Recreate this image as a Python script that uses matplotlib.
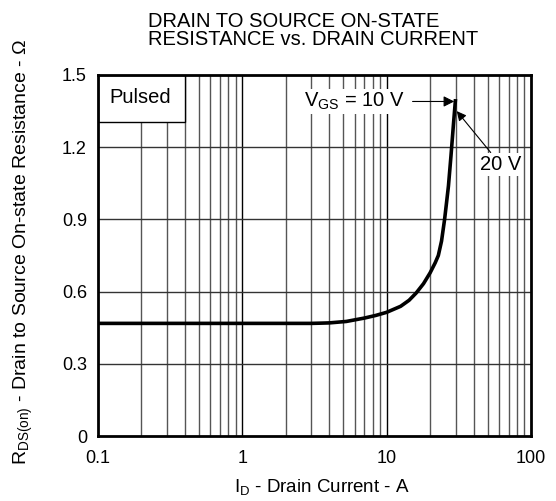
import numpy as np
import matplotlib
matplotlib.use("Agg")
import matplotlib.pyplot as plt
from matplotlib.patches import Rectangle

plt.rcParams["font.family"] = ["Liberation Sans", "DejaVu Sans"]
plt.rcParams["mathtext.fontset"] = "custom"
plt.rcParams["mathtext.rm"] = "Liberation Sans"

# RDS(on) vs ID curve
drain_current = [0.1, 0.5, 1.0, 2.0, 3.0, 3.5, 4.0, 5.25, 7.0, 8.4, 10.0,
                 12.5, 14.3, 16.0, 18.0, 20.0, 21.7, 22.8, 24.0, 25.2, 26.0,
                 26.8, 27.9, 29.1, 30.0]
rds_on = [0.468, 0.468, 0.468, 0.468, 0.468, 0.469, 0.470, 0.476, 0.490,
          0.501, 0.514, 0.539, 0.564, 0.594, 0.633, 0.678, 0.720, 0.750,
          0.810, 0.900, 0.970, 1.039, 1.164, 1.303, 1.400]

x_ticks = [0.1, 1, 10, 100]
x_tick_labels = ["0.1", "1", "10", "100"]
y_ticks = [0, 0.3, 0.6, 0.9, 1.2, 1.5]
y_tick_labels = ["0", "0.3", "0.6", "0.9", "1.2", "1.5"]

fig = plt.figure(figsize=(5.56, 5.01), dpi=100)
ax = fig.add_axes([0.1763, 0.1297, 0.7787, 0.7206])

ax.set_xscale("log")
ax.set_xlim(0.1, 100)
ax.set_ylim(0, 1.5)

# grid: every 1..9 per decade, horizontal every 0.3
for dec in [0.1, 1, 10]:
    for m in range(2, 10):
        ax.axvline(dec * m, color="#555555", lw=1.0, zorder=1)
for v in [1, 10]:
    ax.axvline(v, color="black", lw=1.0, zorder=1)
for v in y_ticks[1:-1]:
    ax.axhline(v, color="#333333", lw=1.0, zorder=1)

# "Pulsed" box covers the grid in the upper left corner
ax.add_patch(Rectangle((0.1, 1.306), 0.3, 0.194, facecolor="white",
                       edgecolor="black", lw=1.0, zorder=2))
ax.text(0.195, 1.405, "Pulsed", ha="center", va="center", fontsize=14.5,
        zorder=3)

ax.plot(drain_current, rds_on, color="black", lw=2.6, zorder=4,
        solid_capstyle="butt")

ax.annotate(r"V$_{\mathregular{GS}}$ = 10 V", xy=(29.4, 1.39),
            xytext=(13.4, 1.39), ha="right", va="center", fontsize=14.5,
            bbox=dict(boxstyle="square,pad=0.1", fc="white", ec="none"),
            arrowprops=dict(arrowstyle="-|>", color="black", lw=0.8,
                            mutation_scale=16, shrinkA=4, shrinkB=0),
            zorder=5)
ax.annotate("20 V", xy=(30.6, 1.35), xytext=(44.0, 1.13),
            ha="left", va="center", fontsize=14.5,
            bbox=dict(boxstyle="square,pad=0.1", fc="white", ec="none"),
            arrowprops=dict(arrowstyle="-|>", color="black", lw=0.8,
                            mutation_scale=14, shrinkA=0, shrinkB=0),
            zorder=5)

ax.set_xticks(x_ticks)
ax.set_xticklabels(x_tick_labels)
ax.set_xticks([], minor=True)
ax.set_yticks(y_ticks)
ax.set_yticklabels(y_tick_labels)
ax.tick_params(length=0, labelsize=13)
ax.tick_params(axis="x", pad=10)
ax.tick_params(axis="y", pad=8)

for s in ax.spines.values():
    s.set_linewidth(2.0)
    s.set_zorder(6)

ax.set_xlabel(r"I$_{\mathregular{D}}$ - Drain Current - A", fontsize=13.5)
ax.xaxis.set_label_coords(0.518, -0.115)
ax.set_ylabel(r"R$_{\mathregular{DS(on)}}$ - Drain to Source On-state Resistance - $\Omega$",
              fontsize=14)
ax.yaxis.set_label_coords(-0.145, 0.51)

fig.text(148 / 556, 1 - 27 / 501, "DRAIN TO SOURCE ON-STATE",
         ha="left", va="baseline", fontsize=14.5)
fig.text(148 / 556, 1 - 45 / 501, "RESISTANCE vs. DRAIN CURRENT",
         ha="left", va="baseline", fontsize=14.5)

fig.savefig("out.png", dpi=100)
